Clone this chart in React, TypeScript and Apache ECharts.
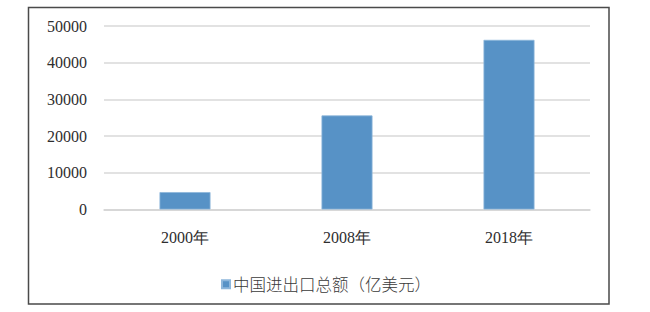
import React, { useEffect, useRef } from "react";
import * as echarts from "echarts";

const categories = ["2000年", "2008年", "2018年"];
const tradeValues = [4743, 25632, 46230];
const seriesName = "中国进出口总额（亿美元）";
const yTicks = [0, 10000, 20000, 30000, 40000, 50000];

const SERIF = "'Times New Roman', 'Liberation Serif', 'DejaVu Serif', serif";

export default function App() {
  const ref = useRef<HTMLDivElement>(null);
  useEffect(() => {
    if (!ref.current) return;
    const chart = echarts.init(ref.current, undefined, { renderer: "svg" });
    chart.setOption({
      animation: false,
      backgroundColor: "#ffffff",
      graphic: [
        {
          type: "rect",
          shape: { x: 28.5, y: 7.5, width: 580.5, height: 296.5 },
          style: { fill: "none", stroke: "#4a4a4a", lineWidth: 1.5 },
          silent: true,
        },
      ],
      grid: { left: 104, right: 60, top: 26, bottom: 102.5, containLabel: false },
      legend: {
        left: 216,
        top: 271,
        itemWidth: 8,
        itemHeight: 8,
        itemGap: 0,
        icon: "rect",
        textStyle: {
          fontSize: 16.5,
          color: "#3a3a3a",
          fontFamily: "Noto Sans CJK SC",
          fontWeight: 300,
          padding: [0, 0, 0, -2],
        },
        data: [seriesName],
      },
      xAxis: {
        type: "category",
        data: categories,
        axisLine: { show: true, lineStyle: { color: "#d4d4d4", width: 1.5 } },
        axisTick: { show: false },
        axisLabel: {
          margin: 20,
          fontSize: 16,
          color: "#2e2e2e",
          fontFamily: SERIF,
        },
      },
      yAxis: {
        type: "value",
        min: yTicks[0],
        max: yTicks[yTicks.length - 1],
        interval: 10000,
        axisLine: { show: false },
        axisTick: { show: false },
        splitLine: { lineStyle: { color: "#d9d9d9", width: 1.5 } },
        axisLabel: {
          margin: 17,
          fontSize: 16,
          color: "#2e2e2e",
          fontFamily: SERIF,
          formatter: (v: number) => String(v),
        },
      },
      series: [
        {
          name: seriesName,
          type: "bar",
          data: tradeValues,
          barWidth: 51,
          itemStyle: { color: "#5792c6", borderColor: "#8db6db", borderWidth: 0.8 },
        },
      ],
    });
    return () => chart.dispose();
  }, []);
  return (
    <div
      ref={ref}
      style={{ position: "fixed", left: 0, top: 0, width: 650, height: 312 }}
    />
  );
}
